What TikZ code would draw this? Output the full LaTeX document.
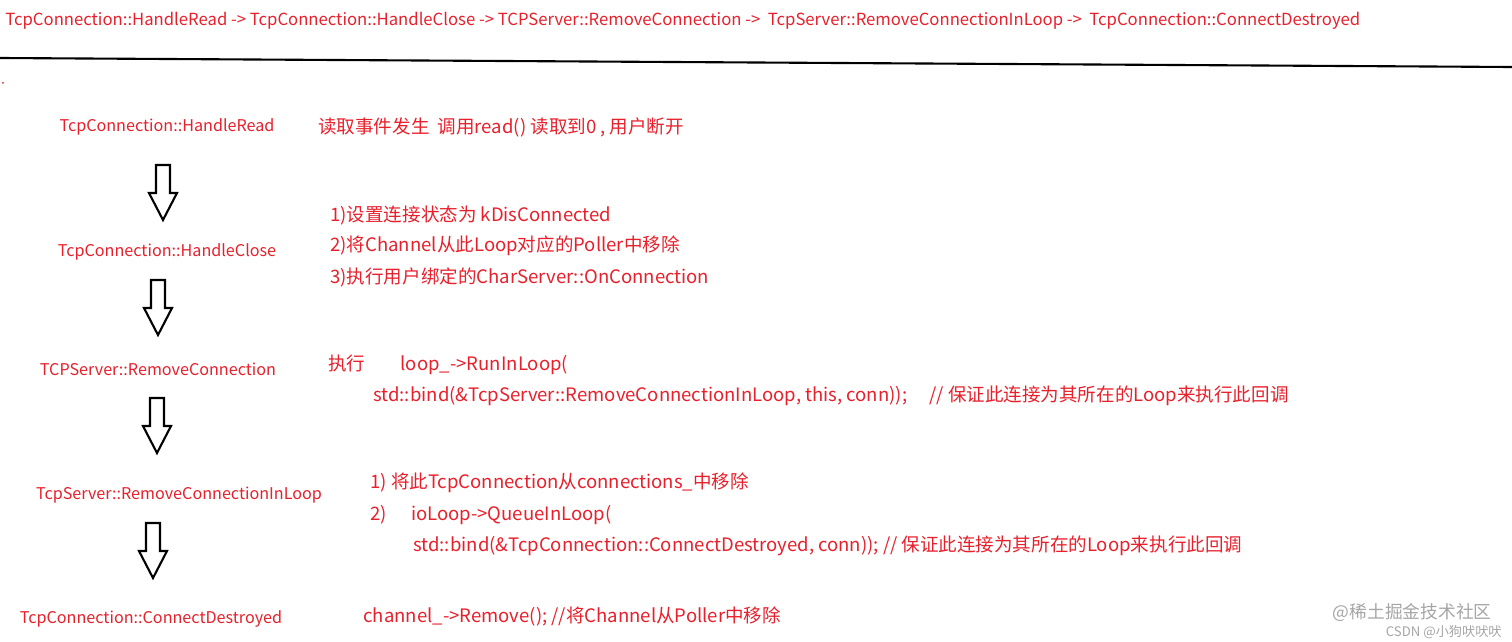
\documentclass[tikz,border=0pt]{standalone}
\usepackage{fontspec}
\setmainfont{Noto Sans CJK SC}
\usetikzlibrary{positioning}
\definecolor{notered}{RGB}{232,32,44}
\definecolor{markgray}{RGB}{165,165,165}

\begin{document}
\begin{tikzpicture}[x=0.02cm, y=-0.02cm,
	every node/.style={inner sep=0pt, text=notered},
	step label/.style={font=\fontsize{9.2}{11}\selectfont},
	note/.style={anchor=west, font=\fontsize{10.55}{12}\selectfont},
	block arrow/.style={draw, line width=1.2pt, line join=miter, fill=white}]
					\useasboundingbox (0,0) rectangle (1512,642);
					
					% heading and rule
					\node[anchor=west, font=\fontsize{9.5}{11}\selectfont] (chain) at (5,21) {TcpConnection::HandleRead -> TcpConnection::HandleClose -> TCPServer::RemoveConnection ->\ \ TcpServer::RemoveConnectionInLoop ->\ \ TcpConnection::ConnectDestroyed};
					\coordinate (rulel) at (0,58);
					\coordinate (ruler) at (1512,67);
					\draw[line width=1.2pt] (rulel) -- (ruler);
					\fill[notered] (3,83) circle (1);
					
					% call steps
					\node[step label] (hread) at (167,127) {TcpConnection::HandleRead};
					\node[step label] (hclose) at (167,252) {TcpConnection::HandleClose};
					\node[step label] (rmconn) at (158,369) {TCPServer::RemoveConnection};
					\node[step label] (rmloop) at (179,495) {TcpServer::RemoveConnectionInLoop};
					\node[step label] (destroyed) at (151,619) {TcpConnection::ConnectDestroyed};
					
					% hollow arrows between the steps
					\foreach \ax/\ay in {163/165, 158/280, 157/398, 153/523}
						\draw[block arrow] (\ax-7,\ay) -- (\ax+7,\ay) -- (\ax+7,\ay+28) -- (\ax+14,\ay+28) -- (\ax,\ay+55) -- (\ax-14,\ay+28) -- (\ax-7,\ay+28) -- cycle;
					
					% what each step does
					\node[note] (dread) at (318,127) {读取事件发生\ \ 调用read() 读取到0 , 用户断开};
					\node[note] (dclosea) at (330,215) {1)设置连接状态为 kDisConnected};
					\node[note] (dcloseb) at (330,246) {2)将Channel从此Loop对应的Poller中移除};
					\node[note] (dclosec) at (330,277) {3)执行用户绑定的CharServer::OnConnection};
					\node[note] (dconna) at (328,365) {执行\hspace*{1.9em}loop\_->RunInLoop(};
					\node[note] (dconnb) at (373,396) {std::bind(\&TcpServer::RemoveConnectionInLoop, this, conn));\hspace*{1.2em}// 保证此连接为其所在的Loop来执行此回调};
					\node[note] (dloopa) at (370,483) {1) 将此TcpConnection从connections\_中移除};
					\node[note] (dloopb) at (370,515) {2)\hspace*{1.3em}ioLoop->QueueInLoop(};
					\node[note] (dloopc) at (413,546) {std::bind(\&TcpConnection::ConnectDestroyed, conn)); // 保证此连接为其所在的Loop来执行此回调};
					\node[note] (ddestroy) at (363,616) {channel\_->Remove(); //将Channel从Poller中移除};
					
					% watermark
					\node[anchor=east, text=markgray, font=\fontsize{10.1}{12}\selectfont] (markone) at (1492,612) {@稀土掘金技术社区};
					\node[anchor=east, text=markgray, font=\fontsize{7.5}{9}\selectfont] (marktwo) at (1502,632) {CSDN @小狗吠吠吠};
				\end{tikzpicture}
\end{document}
